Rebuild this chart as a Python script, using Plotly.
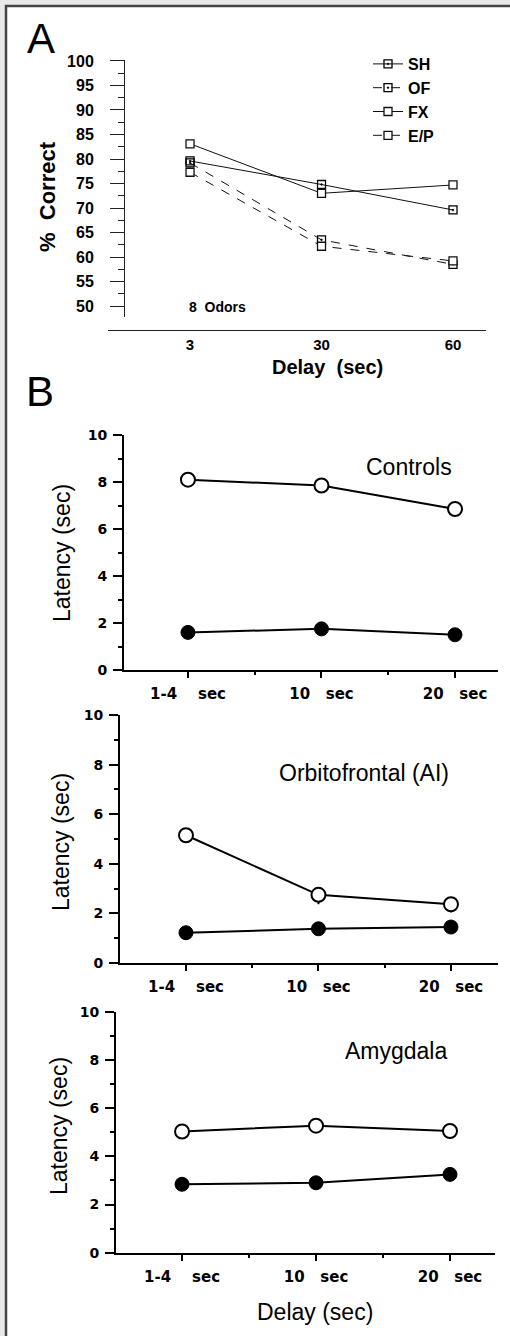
import plotly.graph_objects as go

W, H = 510, 1336

# ---------------- data ----------------
delays_a = ["3", "30", "60"]
sh = [79.6, 74.8, 69.6]
of = [79.2, 63.5, 58.5]
fx = [83.1, 73.0, 74.7]
ep = [77.3, 62.2, 59.2]

delay_b_labels = ["1-4\u00a0\u00a0\u00a0\u00a0sec", "10\u00a0\u00a0\u00a0sec", "20\u00a0\u00a0\u00a0sec"]
delay_b_pos = [0, 1, 2]

ctrl_open = [8.1, 7.85, 6.85]
ctrl_filled = [1.6, 1.75, 1.5]
ofc_open = [5.15, 2.75, 2.37]
ofc_open_err = [0.0, 0.38, 0.33]
ofc_filled = [1.22, 1.38, 1.45]
amy_open = [5.03, 5.27, 5.05]
amy_filled = [2.84, 2.9, 3.25]


def px(x):
    return x / W


def py(y):
    return 1 - y / H


NARROW = "Liberation Sans Narrow, Arial Narrow, Liberation Sans, Arial"
ARIAL = "Liberation Sans, Arial, sans-serif"
WIDE = "DejaVu Sans, Verdana, sans-serif"

fig = go.Figure()

# ---------------- panel A ----------------
a_specs = [
    ("SH", sh, "solid", "square-open-dot", "black"),
    ("OF", of, "dash", "square-open-dot", "black"),
    ("FX", fx, "solid", "square", "white"),
    ("E/P", ep, "dash", "square", "white"),
]
for name, vals, dash, sym, mcol in a_specs:
    fig.add_trace(go.Scatter(
        x=delays_a, y=vals, name=name, mode="lines+markers",
        line=dict(color="#111", width=1, dash=dash),
        marker=dict(symbol=sym, size=8, color=mcol,
                    line=dict(color="#111", width=1.3)),
        xaxis="x", yaxis="y", legendgroup=name, showlegend=True,
    ))

# ---------------- panel B ----------------
b_sets = [
    ("x2", "y2", ctrl_open, ctrl_filled, None),
    ("x3", "y3", ofc_open, ofc_filled, ofc_open_err),
    ("x4", "y4", amy_open, amy_filled, None),
]
for xa, ya, op, fi, err in b_sets:
    fig.add_trace(go.Scatter(
        x=delay_b_pos, y=fi, mode="lines+markers", name="filled",
        line=dict(color="black", width=2),
        marker=dict(symbol="circle", size=14, color="black",
                    line=dict(color="black", width=1)),
        xaxis=xa, yaxis=ya, showlegend=False,
    ))
    ekw = {}
    if err is not None:
        ekw["error_y"] = dict(type="data", symmetric=False, array=[0, 0, 0],
                              arrayminus=err, color="black", thickness=2, width=0)
    fig.add_trace(go.Scatter(
        x=delay_b_pos, y=op, mode="lines+markers", name="open",
        line=dict(color="black", width=2),
        marker=dict(symbol="circle", size=14, color="white",
                    line=dict(color="black", width=2)),
        xaxis=xa, yaxis=ya, showlegend=False, **ekw,
    ))

# ---------------- axes ----------------
layout = dict(
    width=W, height=H, autosize=False,
    margin=dict(l=0, r=0, t=0, b=0, autoexpand=False),
    paper_bgcolor="#e8e8e9",
    plot_bgcolor="rgba(0,0,0,0)",
    showlegend=True,
    legend=dict(x=px(368), y=py(47), xanchor="left", yanchor="top",
                font=dict(family=ARIAL, size=16, color="black", weight="bold"),
                bgcolor="rgba(0,0,0,0)", tracegroupgap=0, itemwidth=30),
)

layout["xaxis"] = dict(
    domain=[px(108), px(486)], anchor="free", position=py(330),
    type="category", range=[-0.624, 2.251], automargin=False,
    showline=True, linecolor="#222", linewidth=1,
    ticks="", showgrid=False, zeroline=False,
    tickfont=dict(family=ARIAL, size=15, color="black", weight="bold"),
    ticklabelstandoff=1,
)
layout["yaxis"] = dict(
    domain=[py(317), py(60)], anchor="free", position=px(124),
    range=[47.76, 100.2], tick0=0, dtick=5, automargin=False,
    showline=True, linecolor="#222", linewidth=1,
    ticks="outside", ticklen=14, tickwidth=1, tickcolor="#222",
    minor=dict(dtick=2.5, tick0=0, ticks="outside", ticklen=6, tickcolor="#222", tickwidth=1),
    showgrid=False, zeroline=False,
    tickfont=dict(family=NARROW, size=16, color="black", weight="bold"),
    ticklabelstandoff=13,
)

b_geo = [
    ("xaxis2", "yaxis2", "x2", "y2", 124, 498, 435, 670, [-0.479, 2.322]),
    ("xaxis3", "yaxis3", "x3", "y3", 120, 498, 715, 963, [-0.498, 2.355]),
    ("xaxis4", "yaxis4", "x4", "y4", 116, 495, 1011.7, 1252.7, [-0.493, 2.336]),
]
for xk, yk, xn, yn, x0, x1, yt, yb, xr in b_geo:
    layout[xk] = dict(
        domain=[px(x0), px(x1)], anchor=yn, range=xr, automargin=False,
        tickvals=delay_b_pos, ticktext=delay_b_labels,
        showline=True, linecolor="black", linewidth=2,
        ticks="outside", ticklen=6, tickwidth=2, tickcolor="black",
        minor=dict(dtick=0.5, tick0=0, ticks="outside", ticklen=3, tickwidth=2, tickcolor="black"),
        showgrid=False, zeroline=False,
        tickfont=dict(family=WIDE, size=15, color="black", weight="bold"),
        ticklabelstandoff=3,
    )
    layout[yk] = dict(
        domain=[py(yb), py(yt)], anchor=xn, range=[0, 10], automargin=False,
        tick0=0, dtick=2,
        showline=True, linecolor="black", linewidth=2,
        ticks="outside", ticklen=9, tickwidth=2, tickcolor="black",
        minor=dict(dtick=1, tick0=0, ticks="outside", ticklen=4, tickwidth=1.5, tickcolor="black"),
        showgrid=False, zeroline=False,
        tickfont=dict(family=WIDE, size=14, color="black", weight="bold"),
        ticklabelstandoff=3,
    )

fig.update_layout(**layout)

# ---------------- frame ----------------
fig.add_shape(type="rect", xref="paper", yref="paper",
              x0=px(6), x1=px(530), y0=py(1360), y1=py(6),
              line=dict(color="#444", width=2.5), fillcolor="white", layer="below")


def ann(text, x, y, size, family=ARIAL, bold=False, angle=0, xanchor="center"):
    fig.add_annotation(
        text=text, x=px(x), y=py(y), xref="paper", yref="paper",
        showarrow=False, xanchor=xanchor, yanchor="middle", textangle=angle,
        font=dict(family=family, size=size, color="black",
                  weight="bold" if bold else "normal"),
    )


ann("A", 25, 38, 42, xanchor="left")
ann("B", 24, 391, 42, xanchor="left")
ann("%\u00a0\u00a0Correct", 48, 197, 22, bold=True, angle=-90)
ann("Delay\u00a0\u00a0(sec)", 327, 367, 20, bold=True)
ann("8\u00a0\u00a0Odors", 187, 307, 14, bold=True, xanchor="left")

ann("Controls", 409, 467, 23)
ann("Orbitofrontal (AI)", 364, 773, 23)
ann("Amygdala", 396, 1051, 23)
ann("Latency (sec)", 62, 553, 23, angle=-90)
ann("Latency (sec)", 61, 842, 23, angle=-90)
ann("Latency (sec)", 59, 1126, 23, angle=-90)
ann("Delay (sec)", 315, 1312, 23)

fig.write_html("out.html")
